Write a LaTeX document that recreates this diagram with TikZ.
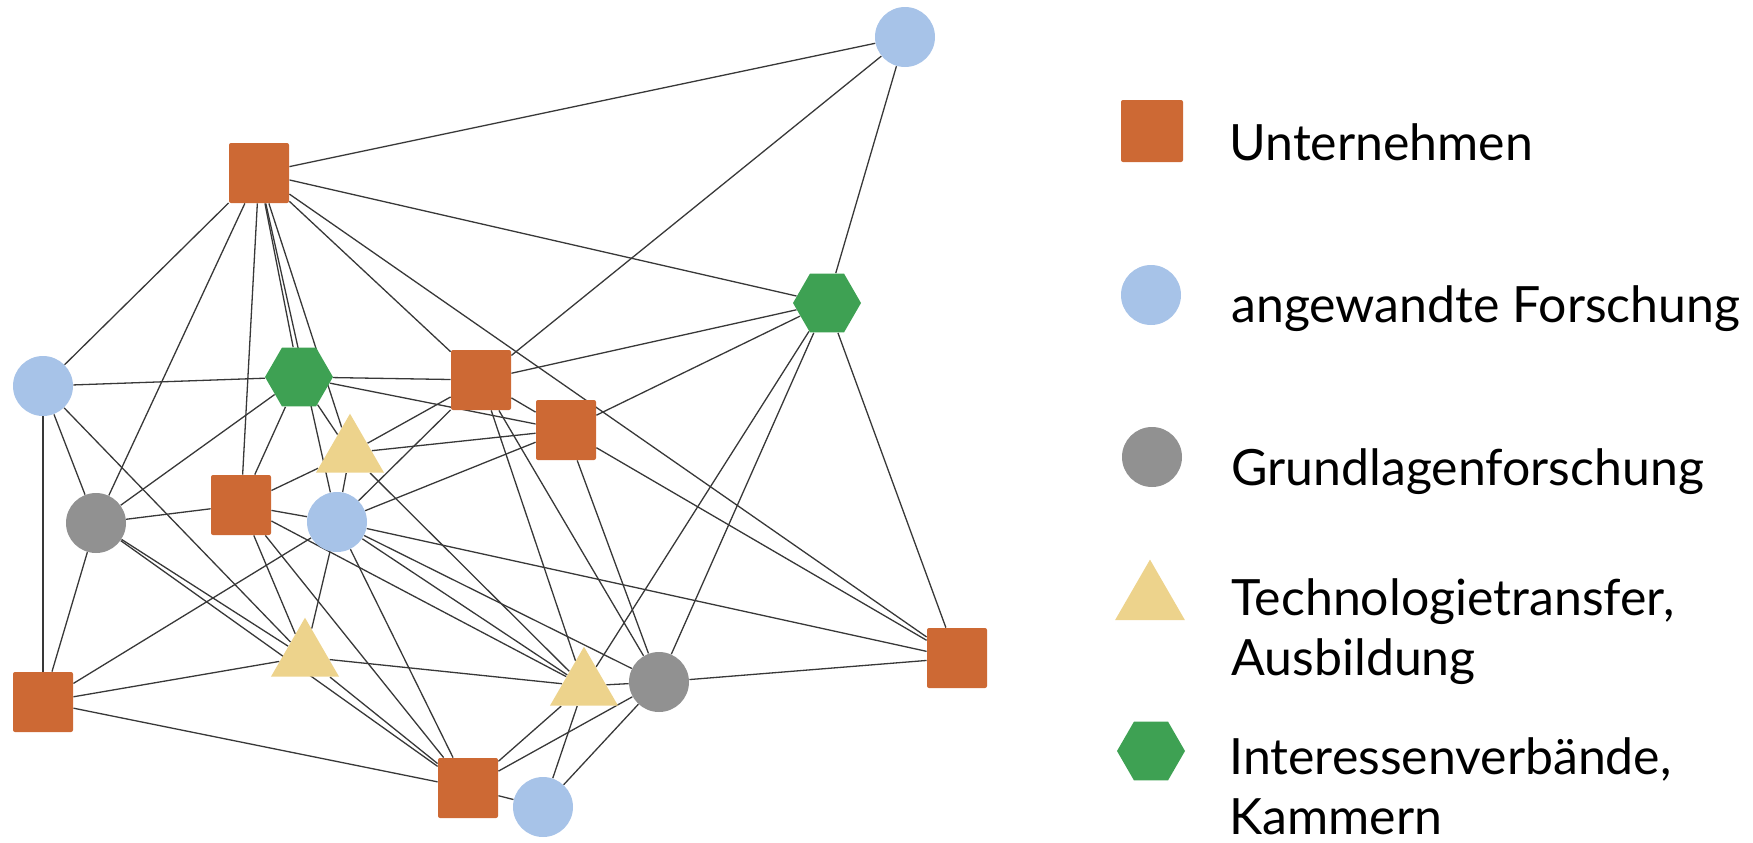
\documentclass[tikz,border=0pt]{standalone}
\usepackage{fontspec}
\setmainfont{Lato}
\usetikzlibrary{shapes.geometric,backgrounds}
\definecolor{firmC}{HTML}{CD6934}
\definecolor{applC}{HTML}{A7C3E8}
\definecolor{basicC}{HTML}{919191}
\definecolor{transC}{HTML}{EDD38C}
\definecolor{assocC}{HTML}{3EA153}
\tikzset{
  firm/.style={rectangle,fill=firmC,minimum size=30pt,inner sep=0pt,rounded corners=1pt},
  appl/.style={circle,fill=applC,minimum size=30pt,inner sep=0pt},
  basic/.style={circle,fill=basicC,minimum size=30pt,inner sep=0pt},
  trans/.style={regular polygon,regular polygon sides=3,fill=transC,minimum size=39.3pt,inner sep=0pt},
  assoc/.style={regular polygon,regular polygon sides=6,fill=assocC,minimum size=34pt,inner sep=0pt},
  link/.style={draw=black!78,line width=0.65pt},
  lbl/.style={anchor=base west,inner sep=0pt,font=\fontsize{25}{30}\selectfont,align=left}
}

\begin{document}
\begin{tikzpicture}[x=0.5pt,y=-0.5pt]
        \useasboundingbox (0,0) rectangle (1753,842);
        % Unternehmen
        \node[firm] (firm1) at (259,173) {};
        \node[firm] (firm2) at (481,380) {};
        \node[firm] (firm3) at (566,430) {};
        \node[firm] (firm4) at (241,505) {};
        \node[firm] (firm5) at (957,658) {};
        \node[firm] (firm6) at (43,702) {};
        \node[firm] (firm7) at (468,788) {};
        % angewandte Forschung
        \node[appl] (appl1) at (905,37) {};
        \node[appl] (appl2) at (43,386) {};
        \node[appl] (appl3) at (337,522) {};
        \node[appl] (appl4) at (543,807) {};
        % Grundlagenforschung
        \node[basic] (basic1) at (96,523) {};
        \node[basic] (basic2) at (659,682) {};
        % Technologietransfer
        \node[trans] (trans1) at (350,453) {};
        \node[trans] (trans2) at (305,657) {};
        \node[trans] (trans3) at (584,686) {};
        % Interessenverbaende
        \node[assoc] (assoc1) at (827,303) {};
        \node[assoc] (assoc2) at (299,377) {};

        % links
        \begin{scope}[on background layer]
        \foreach \a/\b in {firm1/appl1, firm1/assoc1, firm1/appl2, firm1/basic1, firm1/firm4,
            firm1/assoc2, firm1/appl3, firm1/trans1, firm1/firm2, firm1/firm5,
            appl1/firm2, appl1/assoc1,
            assoc1/firm2, assoc1/firm3, assoc1/trans3, assoc1/basic2, assoc1/firm5,
            appl2/assoc2, appl2/basic1, appl2/firm6, appl2/trans2,
            assoc2/firm2, assoc2/firm3, assoc2/basic1, assoc2/firm4, assoc2/trans1,
            firm2/firm3, firm2/trans1, firm2/appl3, firm2/trans3, firm2/basic2,
            firm3/trans1, firm3/appl3, firm3/firm5, firm3/basic2,
            trans1/firm4, trans1/appl3, trans1/trans3,
            firm4/basic1, firm4/appl3, firm4/trans2, firm4/firm7, firm4/trans3,
            basic1/firm6, basic1/trans2, basic1/firm7,
            appl3/firm5, appl3/basic2, appl3/trans3, appl3/firm6, appl3/trans2, appl3/firm7,
            trans2/firm6, trans2/trans3, trans2/firm7,
            trans3/basic2, trans3/firm7, trans3/appl4,
            basic2/firm5, basic2/firm7, basic2/appl4,
            firm6/firm7, firm7/appl4}
            \draw[link] (\a) -- (\b);
        \end{scope}

        % legend
        \node[firm, minimum size=31pt] (key1) at (1152,131) {};
        \node[appl] (key2) at (1151,295) {};
        \node[basic] (key3) at (1152,457) {};
        \node[trans, minimum size=40.4pt] (key4) at (1150,600) {};
        \node[assoc] (key5) at (1151,751) {};
        \node[lbl] (txt1) at (1229,160) {Unternehmen};
        \node[lbl] (txt2) at (1231,322) {angewandte Forschung};
        \node[lbl] (txt3) at (1231,485) {Grundlagenforschung};
        \node[lbl] (txt4) at (1231,675) {Technologietransfer,\\Ausbildung};
        \node[lbl] (txt5) at (1229,834) {Interessenverbände,\\Kammern};
\end{tikzpicture}
\end{document}
